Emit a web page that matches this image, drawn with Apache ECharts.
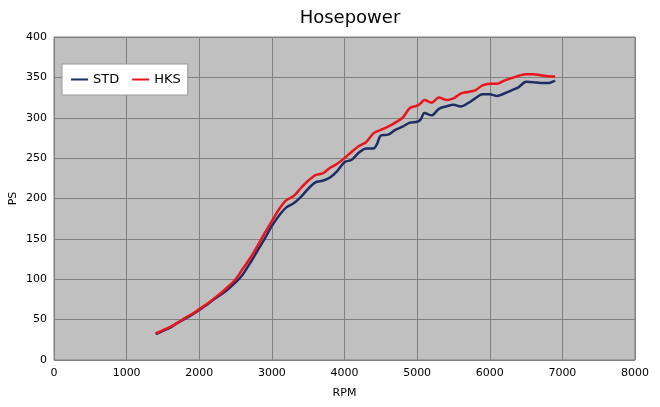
<!DOCTYPE html>
<html><head><meta charset="utf-8">
<script src="https://cdn.jsdelivr.net/npm/echarts@6/dist/echarts.min.js"></script>
<style>html,body{margin:0;padding:0;background:#fff}#c{width:660px;height:407px}</style>
</head><body><div id="c"></div>
<script>
const rpm = [1400,1500,1600,1700,1800,1900,2000,2100,2200,2300,2400,2500,2600,2700,2800,2900,3000,3100,3200,3300,3400,3500,3600,3700,3800,3900,4000,4100,4200,4300,4400,4450,4500,4600,4700,4800,4900,5000,5050,5100,5200,5300,5400,5500,5600,5700,5800,5900,6000,6100,6200,6300,6400,6500,6600,6700,6800,6900];
const std = [32,36,40,46,51,56,62,68,75,81,88,96,106,120,135,150,166,179,189,194,202,212,220,222,226,234,245,248,257,262,262,268,278,279,285,289,294,295,298,306,303,311,314,316,314,318,324,329,329,327,330,334,338,344.5,344,343,343,346];
const hks = [33,37,41,46,52,57,63,69,76,83,91,100,113,126,141,157,172,187,198,203,213,222,229,231,238,243,250,258,265,270,281,283,285,289,294,300,312,315,318,322,318.7,325,322,324,330,332,334,340,342,342,346,349,352,354,354,352.5,351.5,351];
const seriesNames = ['STD','HKS'];
const chart = echarts.init(document.getElementById('c'));
const font = 'DejaVu Sans';
chart.setOption({
  animation:false,
  title:{text:'Hosepower',left:345,textAlign:'center',top:4,textStyle:{fontFamily:font,fontWeight:'normal',fontSize:18,color:'#000'}},
  legend:{left:62,top:64,padding:[9,7,9,9],itemGap:13,icon:'rect',itemWidth:17,itemHeight:2,backgroundColor:'#fff',borderColor:'#999',borderWidth:1,
    textStyle:{fontFamily:font,fontSize:13,color:'#000'},data:seriesNames},
  grid:{left:54,right:25,top:37,bottom:47,outerBoundsMode:'none',containLabel:false,show:true,backgroundColor:'#c0c0c0',borderColor:'#808080',borderWidth:1},
  xAxis:{type:'value',min:0,max:8000,interval:1000,name:'RPM',nameLocation:'middle',nameGap:28,nameMoveOverlap:false,
    nameTextStyle:{fontFamily:font,fontSize:11,color:'#000'},
    axisLine:{show:false},axisTick:{show:false},
    axisLabel:{fontFamily:font,fontSize:11,color:'#000',margin:8,formatter:v=>String(v)},
    splitLine:{lineStyle:{color:'#808080',width:1}}},
  yAxis:{type:'value',min:0,max:400,interval:50,name:'PS',nameLocation:'middle',nameGap:35,nameMoveOverlap:false,
    nameTextStyle:{fontFamily:font,fontSize:11,color:'#000'},
    axisLine:{show:false},axisTick:{show:false},
    axisLabel:{fontFamily:font,fontSize:11,color:'#000',margin:7,formatter:v=>String(v)},
    splitLine:{lineStyle:{color:'#808080',width:1}}},
  series:[
    {name:'STD',type:'line',data:rpm.map((r,i)=>[r,std[i]]),showSymbol:false,smooth:0.3,color:'#1f2d64',lineStyle:{width:2.5,color:'#1f2d64'}},
    {name:'HKS',type:'line',data:rpm.map((r,i)=>[r,hks[i]]),showSymbol:false,smooth:0.3,color:'#e8141e',lineStyle:{width:2.5,color:'#e8141e'}}
  ]
});
</script></body></html>
